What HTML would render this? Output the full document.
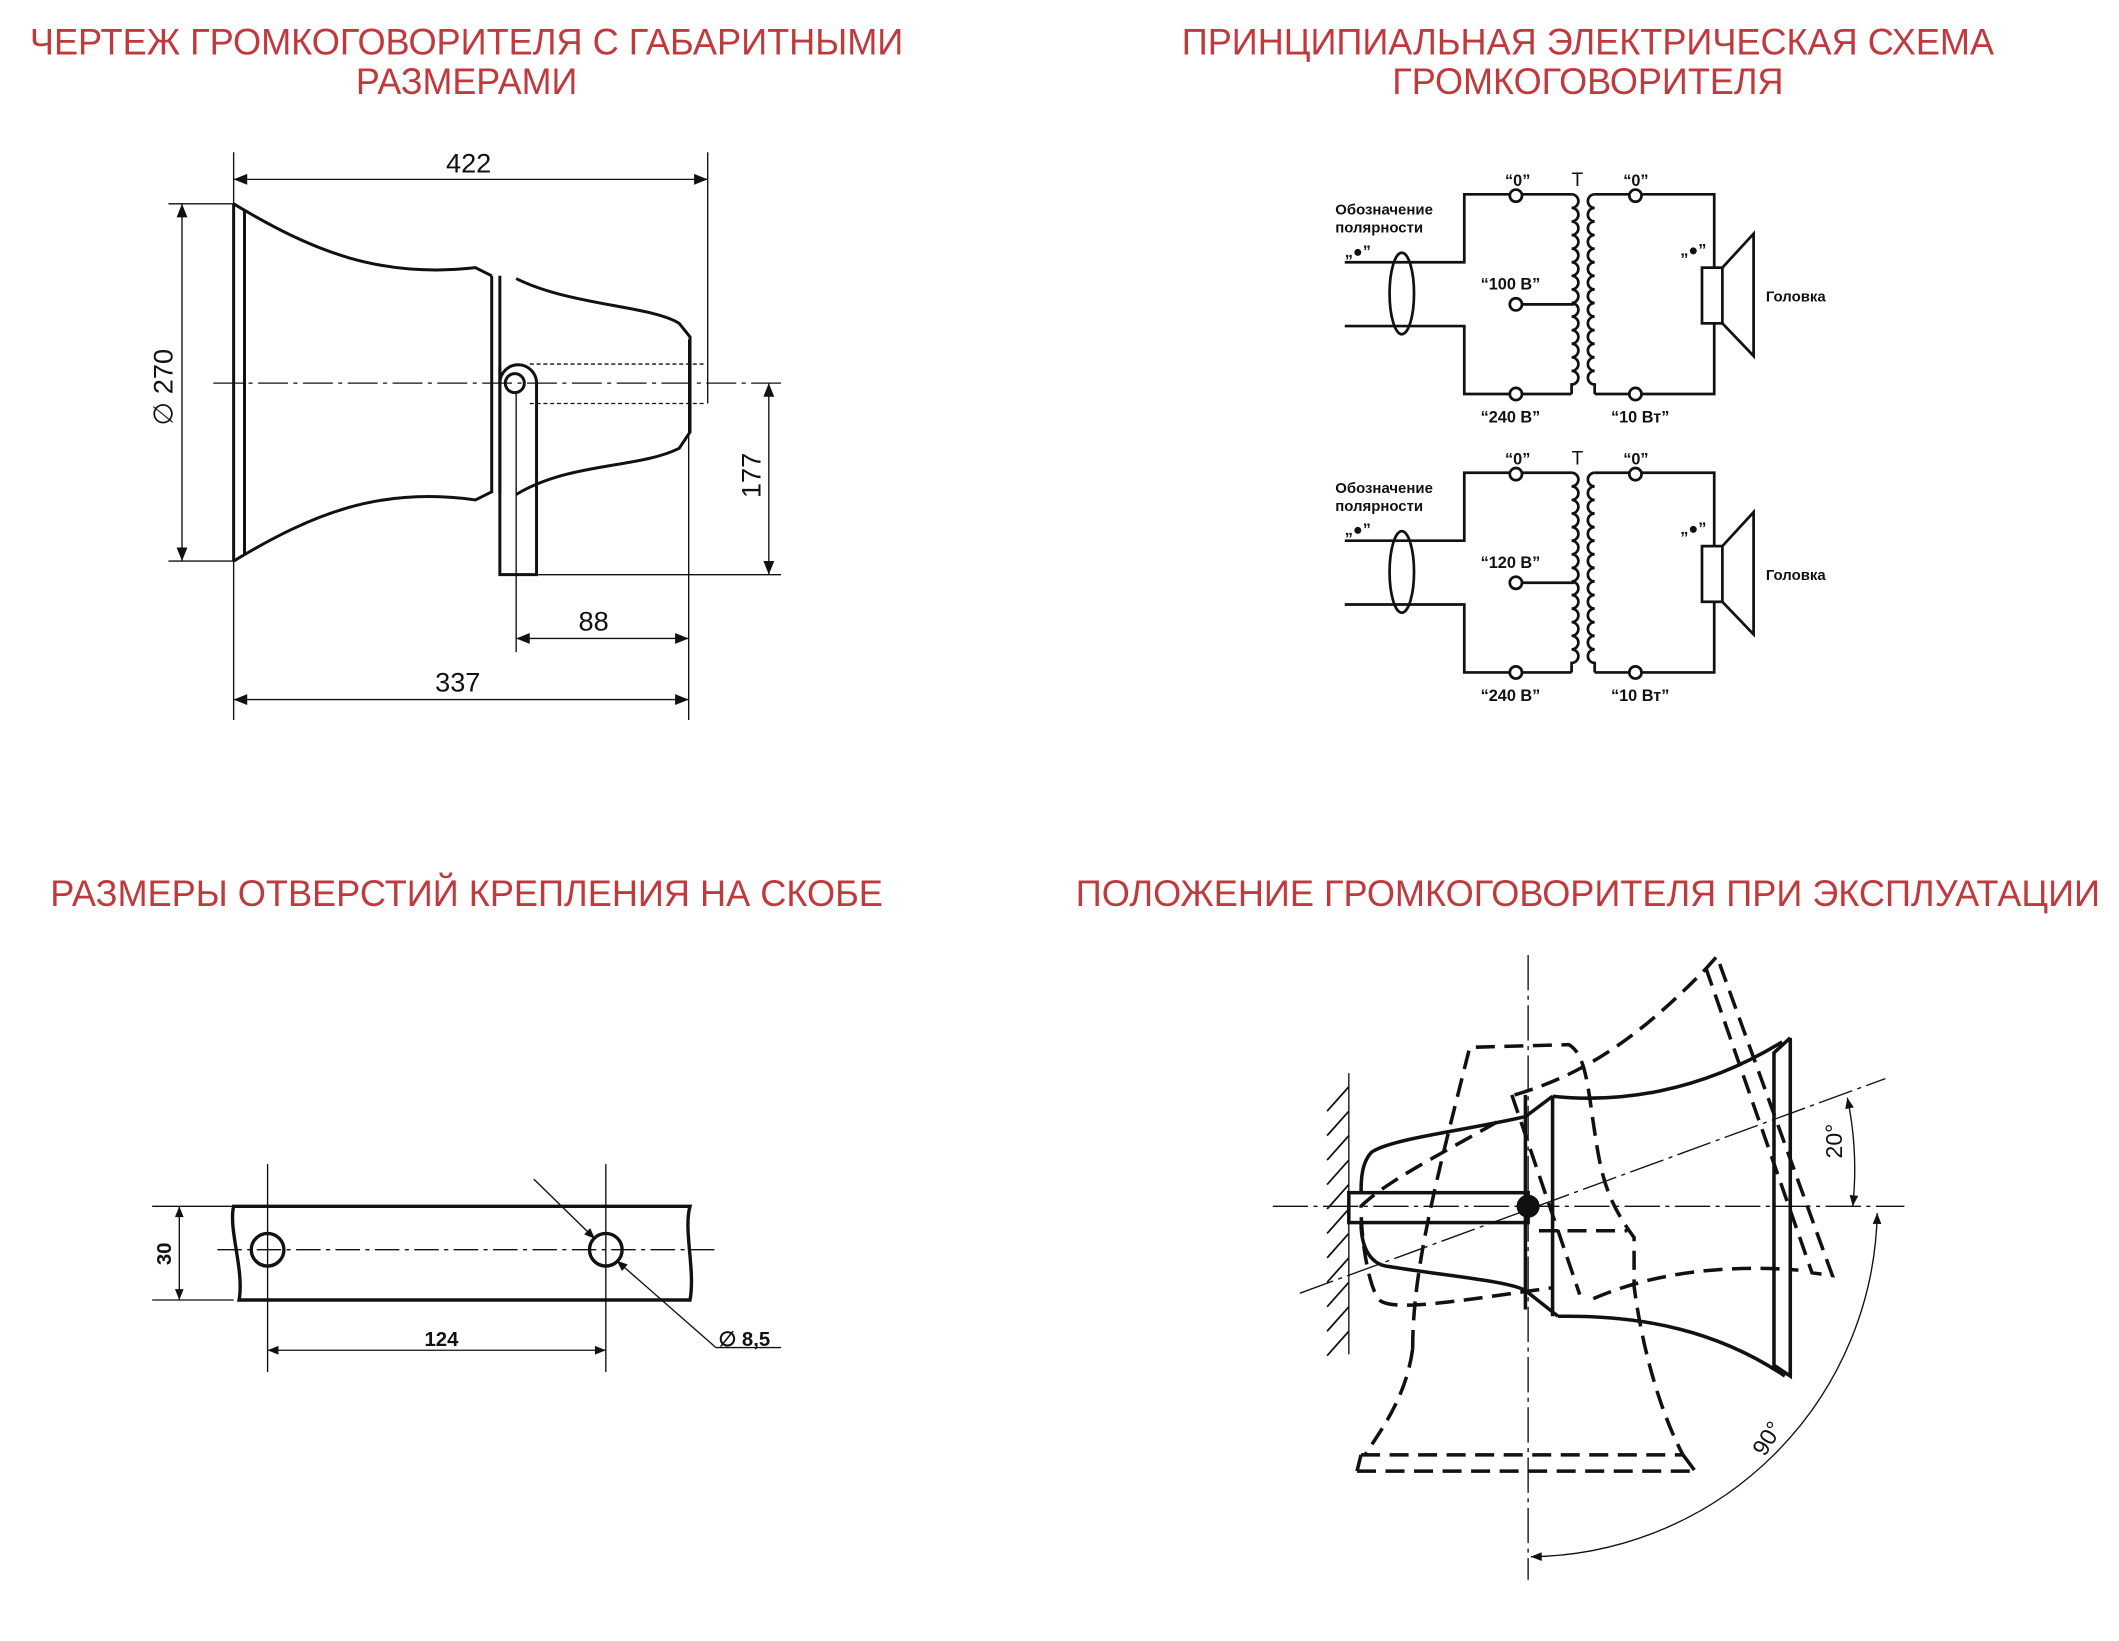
<!DOCTYPE html>
<html><head><meta charset="utf-8"><style>
html,body{margin:0;padding:0;background:#fff}
svg{display:block}
.t{font-family:"Liberation Sans",sans-serif;fill:#c0393d;font-size:27px}
.l{font-family:"Liberation Sans",sans-serif;fill:#111}
</style></head><body>
<svg width="2119" height="1641" viewBox="0 0 1560 1208" xmlns="http://www.w3.org/2000/svg">
<defs>
<marker id="a" viewBox="0 0 10 10" refX="10" refY="5" markerWidth="14" markerHeight="10" markerUnits="userSpaceOnUse" orient="auto-start-reverse"><path d="M0,1 L10,5 L0,9z" fill="#111"/></marker>
<marker id="s" viewBox="0 0 10 10" refX="10" refY="5" markerWidth="11" markerHeight="8" markerUnits="userSpaceOnUse" orient="auto-start-reverse"><path d="M0,1 L10,5 L0,9z" fill="#111"/></marker>
</defs>
<!-- titles -->
<text class="t" x="22" y="40" textLength="643" lengthAdjust="spacingAndGlyphs">ЧЕРТЕЖ ГРОМКОГОВОРИТЕЛЯ С ГАБАРИТНЫМИ</text>
<text class="t" x="262" y="69" textLength="163" lengthAdjust="spacingAndGlyphs">РАЗМЕРАМИ</text>
<text class="t" x="870" y="40" textLength="598" lengthAdjust="spacingAndGlyphs">ПРИНЦИПИАЛЬНАЯ ЭЛЕКТРИЧЕСКАЯ СХЕМА</text>
<text class="t" x="1025" y="69" textLength="288" lengthAdjust="spacingAndGlyphs">ГРОМКОГОВОРИТЕЛЯ</text>
<text class="t" x="37" y="667" textLength="613" lengthAdjust="spacingAndGlyphs">РАЗМЕРЫ ОТВЕРСТИЙ КРЕПЛЕНИЯ НА СКОБЕ</text>
<text class="t" x="792" y="667" textLength="754" lengthAdjust="spacingAndGlyphs">ПОЛОЖЕНИЕ ГРОМКОГОВОРИТЕЛЯ ПРИ ЭКСПЛУАТАЦИИ</text>

<!-- Q1 -->
<g fill="none" stroke="#111">
<g stroke-width="2.2">
<path d="M172,150 L172,413 M180,155 L180,408"/>
<path d="M172,150 C230,185 280,205 350,197 L362,203 M172,413 C230,378 280,358 350,368 L362,362"/>
<path d="M362,203 L362,363 M368,203 L368,363"/>
<path d="M380,205 C420,225 480,225 500,238 L508,248 L508,318 L500,330 C470,345 420,340 380,364"/>
<path d="M368,270 L368,423 L395,423 L395,282 A13,13 0 0 0 368,282"/>
<circle cx="379" cy="282" r="7"/>
</g>
<g stroke-width="1">
<path d="M157,282 L575,282" stroke-dasharray="22,4,3,4"/>
<path d="M390,268 L520,268 M390,297 L520,297" stroke-dasharray="3,2"/>
<path d="M521,112 L521,297 M172,112 L172,530 M124,150 L172,150 M124,413 L172,413 M395,423 L575,423 M380,290 L380,480 M507,250 L507,530"/>
<path d="M172,132 L521,132" marker-start="url(#a)" marker-end="url(#a)"/>
<path d="M134,150 L134,413" marker-start="url(#a)" marker-end="url(#a)"/>
<path d="M566,282 L566,423" marker-start="url(#a)" marker-end="url(#a)"/>
<path d="M380,470 L507,470" marker-start="url(#a)" marker-end="url(#a)"/>
<path d="M172,515 L507,515" marker-start="url(#a)" marker-end="url(#a)"/>
</g>
</g>
<g class="l" font-size="20" text-anchor="middle">
<text x="345" y="127">422</text>
<text x="437" y="464">88</text>
<text x="337" y="509">337</text>
<text transform="translate(127,285) rotate(-90)">∅ 270</text>
<text transform="translate(560,350) rotate(-90)">177</text>
</g>

<!-- Q2 circuits -->
<g id="c1">
<g fill="none" stroke="#111" stroke-width="2">
<path d="M990,193 L1078,193 L1078,143 L1157,143 M990,240 L1078,240 L1078,290 L1157,290"/>
<ellipse cx="1032" cy="216" rx="9" ry="30"/>
<path d="M1157,143 a5,5 0 0 1 0,10 a5,5 0 0 1 0,10 a5,5 0 0 1 0,10 a5,5 0 0 1 0,10 a5,5 0 0 1 0,10 a5,5 0 0 1 0,10 a5,5 0 0 1 0,10 a5,5 0 0 1 0,10 a5,5 0 0 1 0,10 a5,5 0 0 1 0,10 a5,5 0 0 1 0,10 a5,5 0 0 1 0,10 a5,5 0 0 1 0,10 a5,5 0 0 1 0,10 L1157,290"/>
<path d="M1174,143 a5,5 0 0 0 0,10 a5,5 0 0 0 0,10 a5,5 0 0 0 0,10 a5,5 0 0 0 0,10 a5,5 0 0 0 0,10 a5,5 0 0 0 0,10 a5,5 0 0 0 0,10 a5,5 0 0 0 0,10 a5,5 0 0 0 0,10 a5,5 0 0 0 0,10 a5,5 0 0 0 0,10 a5,5 0 0 0 0,10 a5,5 0 0 0 0,10 a5,5 0 0 0 0,10 L1174,290"/>
<path d="M1174,143 L1262,143 L1262,197 M1262,238 L1262,290 L1174,290 M1116,224 L1159,224"/>
<rect x="1253" y="197" width="15" height="41"/>
<path d="M1268,197 L1291,172 L1291,262 L1268,238"/>
<g fill="#fff"><circle cx="1116" cy="144" r="4.5"/><circle cx="1204" cy="144" r="4.5"/><circle cx="1116" cy="290" r="4.5"/><circle cx="1204" cy="290" r="4.5"/><circle cx="1116" cy="224" r="4.5"/></g>
</g>
<g class="l" font-size="12" font-weight="bold">
<text x="1108" y="137">“0”</text><text x="1157" y="137" font-size="14" font-weight="normal">Т</text><text x="1195" y="137">“0”</text>
<text x="1090" y="311">“240 В”</text><text x="1186" y="311">“10 Вт”</text>
<text x="983" y="158" font-size="11">Обозначение</text><text x="983" y="171" font-size="11">полярности</text>
<text x="990" y="189">„●”</text><text x="1237" y="188">„●”</text>
<text x="1300" y="222" font-size="11">Головка</text>
</g>
</g>
<g transform="translate(0,205)">
<use href="#c1"/>
</g>
<rect x="1085" y="201" width="60" height="16" fill="#fff"/>
<rect x="1085" y="406" width="60" height="16" fill="#fff"/>
<g class="l" font-size="12" font-weight="bold">
<text x="1090" y="213">“100 В”</text>
<text x="1090" y="418">“120 В”</text>
</g>

<!-- Q3 -->
<g fill="none" stroke="#111">
<path d="M172,888 L508,888 C503,905 512,935 508,957 L176,957 C180,935 168,905 172,888z" stroke-width="2.5"/>
<circle cx="197" cy="920" r="12" stroke-width="2.5"/><circle cx="446" cy="920" r="12" stroke-width="2.5"/>
<g stroke-width="1">
<path d="M160,920 L527,920" stroke-dasharray="18,4,3,4"/>
<path d="M197,857 L197,1010 M446,857 L446,1010 M112,888 L172,888 M112,957 L172,957 M527,992 L575,992"/>
<path d="M132,888 L132,957" marker-start="url(#s)" marker-end="url(#s)"/>
<path d="M197,994 L446,994" marker-start="url(#s)" marker-end="url(#s)"/>
<path d="M393,868 L438,912" marker-end="url(#s)"/>
<path d="M527,992 L454,928" marker-end="url(#s)"/>
</g>
</g>
<g class="l" font-size="15" font-weight="bold" text-anchor="middle">
<text x="325" y="991">124</text><text x="548" y="991">∅ 8,5</text>
<text transform="translate(126,923) rotate(-90)">30</text>
</g>

<!-- Q4 -->
<g fill="none" stroke="#111">
<g stroke-width="1">
<path d="M1125,703 L1125,1163 M937,888 L1402,888 M957,952 L1388,794" stroke-dasharray="26,4,3,4"/>
<path d="M1360,808 A258,258 0 0 1 1364,888" marker-start="url(#s)" marker-end="url(#s)"/>
<path d="M1382,893 A258,258 0 0 1 1127,1146" marker-start="url(#s)" marker-end="url(#s)"/>
<path d="M993,790 L993,997"/>
<path d="M993,800 L977,818 M993,818 L977,836 M993,836 L977,854 M993,854 L977,872 M993,872 L977,890 M993,890 L977,908 M993,908 L977,926 M993,926 L977,944 M993,944 L977,962 M993,962 L977,980 M993,980 L977,998" stroke-width="1.3"/>
</g>
<g stroke-width="2.6">
<path d="M1143,807 C1190,812 1250,805 1312,767 M1147,969 C1210,968 1265,980 1314,1013"/>
<path d="M1318,764 L1318,1013 L1306,1005 L1306,775 L1318,764"/>
<path d="M1123,806 L1123,964 M1143,807 L1143,969"/>
<path d="M1143,807 L1123,822 C1080,832 1025,838 1010,848 C1002,856 1002,870 1002,878 M1002,900 C1002,920 1010,930 1020,932 C1070,940 1110,943 1123,950 L1147,969"/>
<rect x="993" y="878" width="132" height="22"/>
</g>
<circle cx="1125" cy="888" r="8" fill="#111"/>
<g stroke-width="2.6" stroke-dasharray="14,7">
<path d="M1040,993 C1040,930 1060,860 1082,771 L1155,769 C1165,775 1168,790 1172,820 C1178,860 1180,880 1203,911 L1203,947 C1210,1000 1225,1045 1239,1071"/>
<path d="M1040,993 C1035,1030 1015,1055 1005,1071"/>
<path d="M1002,1071 L1239,1071 M999,1083 L1248,1083 M1239,1071 L1248,1083 M999,1083 L1002,1071"/>
<path d="M1133,906 L1198,906"/>
<path d="M1115,806 C1170,790 1210,760 1256,713 L1264,704 L1349,939 L1334,937 L1256,713"/>
<path d="M1173,956 C1210,940 1260,930 1324,935"/>
<path d="M1113,806 L1163,953 M1102,826 C1060,850 1020,870 1002,888 C1002,920 1010,955 1017,958 C1030,966 1090,955 1143,948"/>
</g>
</g>
<g class="l" font-size="17" text-anchor="middle">
<text transform="translate(1356,840) rotate(-90)">20°</text>
<text transform="translate(1306,1062) rotate(-58)">90°</text>
</g>
</svg>
</body></html>
